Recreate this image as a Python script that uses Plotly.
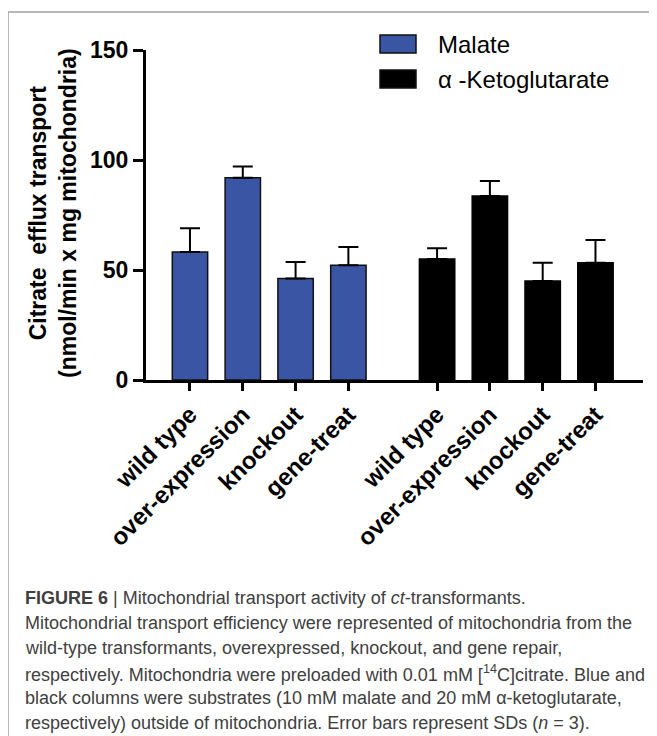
import plotly.graph_objects as go

# ---- data ----
categories = ["wild type", "over-expression", "knockout", "gene-treat"]
malate_values = [58.2, 91.9, 46.1, 52.2]
malate_sd = [10.8, 5.1, 7.5, 8.3]
akg_values = [55.0, 83.6, 45.0, 53.3]
akg_sd = [4.9, 6.9, 8.3, 10.3]
y_ticks = [0, 50, 100, 150]
series_names = ["Malate", "\u03b1 -Ketoglutarate"]

caption_lines = [
    "<b>FIGURE 6</b> | Mitochondrial transport activity of <i>ct</i>-transformants.",
    "Mitochondrial transport efficiency were represented of mitochondria from the",
    "wild-type transformants, overexpressed, knockout, and gene repair,",
    "respectively. Mitochondria were preloaded with 0.01 mM [<sup>14</sup>C]citrate. Blue and",
    "black columns were substrates (10 mM malate and 20 mM \u03b1-ketoglutarate,",
    "respectively) outside of mitochondria. Error bars represent SDs (<i>n</i> = 3).",
]

# ---- layout parameters (page pixels; the page body has an 8px margin) ----
OFF = 8
PAGE_W, PAGE_H = 657, 736
W_FIG, H_FIG = PAGE_W - OFF, PAGE_H - OFF
L, R, T, B = 146, 643, 50, 380
group_start = 4.68
xr = [-0.833, 8.58]
BLUE = "#3a55a4"
FONT = "Liberation Sans, Arial, sans-serif"


def px(x):
    return (x - L) / (R - L)


def py(y):
    return (B - y) / (B - T)


x_mal = [i for i in range(len(categories))]
x_akg = [group_start + i for i in range(len(categories))]

fig = go.Figure()
fig.add_trace(go.Bar(
    x=x_mal, y=malate_values, width=0.67, name=series_names[0],
    marker=dict(color=BLUE, line=dict(color="#111111", width=1.5)),
    error_y=dict(type="data", symmetric=False, array=malate_sd,
                 arrayminus=[0] * len(malate_sd), color="black",
                 thickness=2, width=10),
    showlegend=False,
))
fig.add_trace(go.Bar(
    x=x_akg, y=akg_values, width=0.67, name=series_names[1],
    marker=dict(color="black", line=dict(color="black", width=1.5)),
    error_y=dict(type="data", symmetric=False, array=akg_sd,
                 arrayminus=[0] * len(akg_sd), color="black",
                 thickness=2, width=10),
    showlegend=False,
))

fig.update_layout(
    width=W_FIG, height=H_FIG,
    margin=dict(l=L - OFF, r=PAGE_W - R, t=T - OFF, b=PAGE_H - B, pad=0),
    paper_bgcolor="white", plot_bgcolor="white",
    barmode="overlay",
    font=dict(family=FONT, color="black"),
)

fig.update_xaxes(
    range=xr, tickmode="array", tickvals=x_mal + x_akg,
    ticktext=categories + categories, tickangle=-45,
    tickfont=dict(family=FONT, size=24, weight="bold", color="black"),
    ticks="outside", ticklen=8, tickwidth=3, tickcolor="black",
    showline=True, linewidth=3, linecolor="black",
    showgrid=False, zeroline=False,
)
fig.update_yaxes(
    range=[0, 150], tickmode="array", tickvals=y_ticks,
    ticktext=[str(v) for v in y_ticks],
    tickfont=dict(family=FONT, size=23, weight="bold", color="black"),
    ticks="outside", ticklen=10, tickwidth=3, tickcolor="black",
    showline=True, linewidth=3, linecolor="black",
    showgrid=False, zeroline=False,
)

annotations = []
# y-axis title
annotations.append(dict(
    xref="paper", yref="paper", x=px(53), y=py(213),
    xanchor="center", yanchor="middle", textangle=-90, showarrow=False,
    text="<b>Citrate&nbsp;&nbsp;efflux transport</b><br><b>(nmol/min x mg mitochondria)</b>",
    font=dict(family=FONT, size=23, color="black"),
))
# legend texts
legend_y = [44, 79]
for name, ly in zip(series_names, legend_y):
    annotations.append(dict(
        xref="paper", yref="paper", x=px(436), y=py(ly),
        xanchor="left", yanchor="middle", showarrow=False, text=name,
        font=dict(family=FONT, size=24, color="black"),
    ))
# caption
for k, line in enumerate(caption_lines):
    annotations.append(dict(
        xref="paper", yref="paper", x=px(23), y=py(598 + 25 * k),
        xanchor="left", yanchor="middle", showarrow=False, text=line,
        align="left", font=dict(family=FONT, size=18, color="#404040"),
    ))
fig.update_layout(annotations=annotations)

shapes = []
# legend swatches
for color, (y0, y1) in zip([BLUE, "black"], [(35, 53), (70, 88)]):
    shapes.append(dict(
        type="rect", xref="paper", yref="paper",
        x0=px(380), x1=px(416), y0=py(y1), y1=py(y0),
        fillcolor=color, line=dict(color="#111111", width=1.5),
    ))
# figure frame (top and left)
shapes.append(dict(type="line", xref="paper", yref="paper",
                   x0=px(8), x1=px(657), y0=py(12), y1=py(12),
                   line=dict(color="#a0a0a0", width=1.5)))
shapes.append(dict(type="line", xref="paper", yref="paper",
                   x0=px(8), x1=px(8), y0=py(12), y1=py(736),
                   line=dict(color="#a0a0a0", width=1.5)))
fig.update_layout(shapes=shapes)

fig.write_html("out.html")
